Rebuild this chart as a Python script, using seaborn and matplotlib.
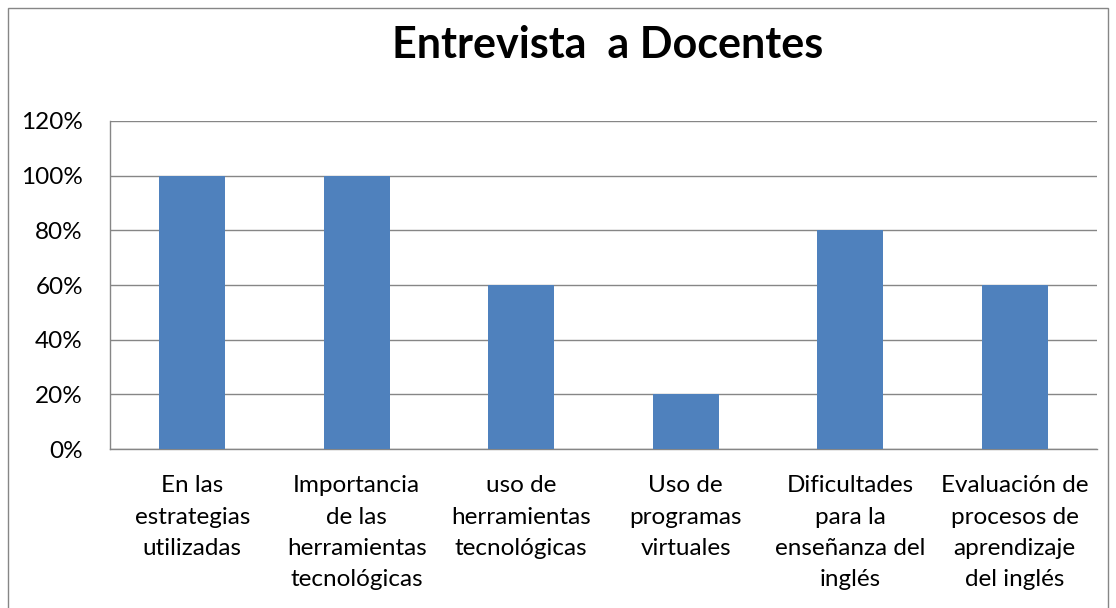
import matplotlib
matplotlib.use("Agg")
import matplotlib.pyplot as plt
import matplotlib.patches as mpatches
import seaborn as sns
import pandas as pd
from matplotlib.ticker import PercentFormatter

# Datos del gráfico
categorias = [
    "En las\nestrategias\nutilizadas",
    "Importancia\nde las\nherramientas\ntecnológicas",
    "uso de\nherramientas\ntecnológicas",
    "Uso de\nprogramas\nvirtuales",
    "Dificultades\npara la\nenseñanza del\ninglés",
    "Evaluación de\nprocesos de\naprendizaje\ndel inglés",
]
valores = [1.0, 1.0, 0.6, 0.2, 0.8, 0.6]
yticks = [0, 0.2, 0.4, 0.6, 0.8, 1.0, 1.2]

df = pd.DataFrame({"categoria": categorias, "valor": valores})

sns.set_style("white")
plt.rcParams["font.family"] = ["Lato", "DejaVu Sans"]
plt.rcParams["text.color"] = "black"
plt.rcParams["xtick.color"] = "black"
plt.rcParams["ytick.color"] = "black"

fig = plt.figure(figsize=(11.16, 6.08), dpi=100)
ax = fig.add_axes([110 / 1116, 1 - 449 / 608, (1097 - 110) / 1116, (449 - 121) / 608])

sns.barplot(data=df, x="categoria", y="valor", color="#4F81BD", width=0.4,
            saturation=1, linewidth=0, ax=ax, zorder=3)

gris = "#868686"
ax.set_ylim(0, 1.2)
ax.set_xlim(-0.5, len(categorias) - 0.5)
ax.set_yticks(yticks)
ax.yaxis.set_major_formatter(PercentFormatter(1.0, decimals=0))
ax.grid(axis="y", color=gris, linewidth=1, zorder=0)
ax.set_xlabel("")
ax.set_ylabel("")

for s in ["top", "right"]:
    ax.spines[s].set_visible(False)
for s in ["left", "bottom"]:
    ax.spines[s].set_color(gris)
    ax.spines[s].set_linewidth(1)

ax.tick_params(axis="y", length=6.5, width=1, color=gris, labelsize=17.5, pad=13,
               labelcolor="black")
ax.tick_params(axis="x", which="major", length=0, labelsize=17.5, pad=19,
               labelcolor="black")
ax.set_xticks([i - 0.5 for i in range(len(categorias) + 1)], minor=True)
ax.tick_params(axis="x", which="minor", length=6, width=1, color=gris)
for lbl in ax.get_xticklabels():
    lbl.set_linespacing(1.6)
    lbl.set_multialignment("center")

fig.text(608 / 1116, 1 - 45 / 608, "Entrevista  a Docentes", ha="center", va="center",
         fontsize=31, fontweight="bold", color="black")

# borde del gráfico
fig.patches.append(mpatches.Rectangle((8 / 1116, -0.01), (1108 - 8) / 1116, 1 - 8 / 608 + 0.01,
                                      transform=fig.transFigure, fill=False,
                                      edgecolor=gris, linewidth=1))

fig.savefig("out.png", dpi=100)
